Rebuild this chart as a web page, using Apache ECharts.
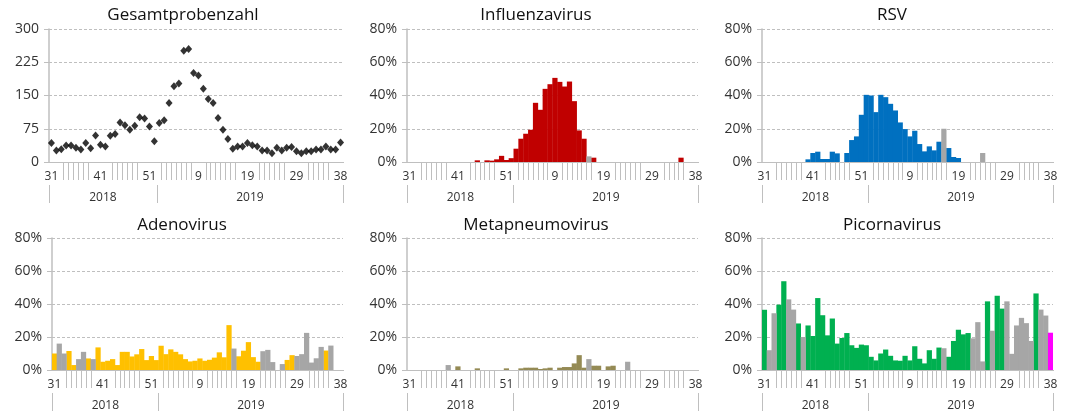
<!DOCTYPE html>
<html><head><meta charset="utf-8">
<script src="https://cdn.jsdelivr.net/npm/echarts@6/dist/echarts.min.js"></script>
<style>html,body{margin:0;padding:0;background:#fff}#c{width:1067px;height:412px}</style>
</head><body><div id="c"></div>
<script>
// ---- data ----
const weeks = [31,32,33,34,35,36,37,38,39,40,41,42,43,44,45,46,47,48,49,50,51,52,
  1,2,3,4,5,6,7,8,9,10,11,12,13,14,15,16,17,18,19,20,21,22,23,24,25,26,27,28,29,30,31,32,33,34,35,36,37,38];
const years = ['2018','2019'];
const totalSamples = [43,26,29,37,37,32,28,43,31,60,39,35,59,63,89,83,73,82,101,98,80,47,
  88,94,133,171,177,251,255,201,195,165,142,133,99,73,52,30,35,35,43,38,35,26,26,20,32,26,32,34,24,20,24,24,28,28,35,28,28,44];
const influenza = [0,0,0,0,0,0,0,0,0,0,0,0,0,0,1,0,1,0.8,1.6,3.7,1.2,2.3,
  8,14,17,19.4,35.6,31.4,44,46.8,50.6,48.2,45.4,48.4,36.6,19,14,3.4,2.6,0,0,0,0,0,0,0,0,0,0,0,0,0,0,0,0,0,2.6,0,0,0];
const rsv = [0,0,0,0,0,0,0,0,0,1.6,5.4,6.2,1.8,1.8,6.2,5.2,0,5.4,13.2,15.4,28.4,40.4,
  40,30,40.4,39,35,31,23.8,19.8,15.4,18.8,10.8,6.4,9.4,7,12.2,20,8.4,3,2.4,0,0,0,0,5.4,0,0,0,0,0,0,0,0,0,0,0,0,0,0];
const adenovirus = [10,16,10,11.5,3,6.6,11,7,6.6,13.7,5,5.6,6.6,3,11,11,8.2,9.5,12.7,6,8.5,6,
  14.7,9.6,12.5,11,9.5,6.6,5.2,5.6,7,5.6,6.2,7.5,10.7,7.7,27.2,13,8.3,11.7,16.9,7.8,5,11.4,12.2,4.8,0,3.6,6.1,9,8.5,9.6,22.5,4.5,7.1,14,11.8,14.8,0,0];
const metapneumovirus = [0,0,0,0,0,0,0,0,3,0,2.2,0,0,0,1,0,0,0,0,0,1,0,
  0,1,1.4,1.4,1.4,0.6,1,1.4,0,1.4,1.8,1.8,4,9,1.4,6.6,2.6,2.6,0,2.2,2.6,0,0,5,0,0,0,0,0,0,0,0,0,0,0,0,0,0];
const picornavirus = [36.5,12,34.4,39.6,53.8,42.8,36.6,28.2,20,27,20.6,43.6,33.2,21,31.2,16,19.4,22.4,15,13.4,15.4,15,
  8,5.8,10,12.4,8.6,5.8,5.6,8.6,5.8,14.4,6.8,4,12,6.8,13.6,13.2,8,17.6,24.4,21.6,22.4,19.2,29,5.2,41.6,23.8,45,37.2,41.6,9.8,27,31.6,28.4,17.6,46.4,36.6,33,22.6];
// weeks (by position in the weeks list) shown in grey (low sample count) and the current week (magenta)
const lowCountWeekIdx = [1,2,5,6,8,37,43,44,45,47,50,51,52,53,54,55,57,58];
const currentWeekIdx = [59];
const totalTicks = [0,75,150,225,300];
const pctTicks = [0,20,40,60,80];

// ---- styles / layout ----
const FONT = 'Open Sans';
const GRIDC = '#bfbfbf';
const TXT = '#333333';
const panels = [
  {title:'Gesamtprobenzahl', kind:'total', data: totalSamples},
  {title:'Influenzavirus', color:'#C00000', data: influenza},
  {title:'RSV', color:'#0070C0', data: rsv},
  {title:'Adenovirus', color:'#FFC000', data: adenovirus},
  {title:'Metapneumovirus', color:'#948A54', data: metapneumovirus},
  {title:'Picornavirus', color:'#00B050', data: picornavirus}
];
const layout = [
  {left:49, top:29, width:294, height:133, tx:183, ty:7},
  {left:407, top:29, width:291, height:133, tx:536, ty:7},
  {left:762, top:29, width:291, height:133, tx:892, ty:7},
  {left:52, top:238, width:291, height:133, tx:182, ty:217},
  {left:407, top:238, width:291, height:133, tx:536, ty:217},
  {left:762, top:238, width:291, height:133, tx:892, ty:217}
];

const cats = weeks.map(String);
const n = cats.length;
const yb = weeks.indexOf(1);
const yearSlots = new Array(n + 1).fill('');
yearSlots[Math.round(yb / 2)] = years[0];
yearSlots[Math.round(yb + (n - yb) / 2)] = years[1];
const yearTickIdx = [0, yb, n];

const grid = [], xAxis = [], yAxis = [], series = [], title = [];
panels.forEach((p, k) => {
  const L = layout[k];
  grid.push({left:L.left, top:L.top, width:L.width, height:L.height});
  title.push({text:p.title, left:L.tx, top:L.ty, textAlign:'center', padding:0,
    textStyle:{fontFamily:FONT, fontSize:17, fontWeight:'normal', color:'#111'}});
  xAxis.push({type:'category', gridIndex:k, data:cats, boundaryGap:true,
    axisLine:{show:true, lineStyle:{color:GRIDC, width:1}},
    axisTick:{show:true, interval:0, length:18, lineStyle:{color:GRIDC, width:1}},
    axisLabel:{interval:(i)=> i % 10 === 0 || i === n - 1, margin:1, fontFamily:FONT, fontSize:12,
      color:TXT, backgroundColor:'#fff', padding:[8,2,2,2], lineHeight:12},
    splitLine:{show:false}});
  xAxis.push({type:'category', gridIndex:k, data:yearSlots, boundaryGap:false, position:'bottom', offset:21,
    axisLine:{show:false},
    axisTick:{show:true, interval:(i)=> yearTickIdx.includes(i), length:20, lineStyle:{color:GRIDC, width:1}},
    axisLabel:{interval:0, margin:9, fontFamily:FONT, fontSize:12, color:TXT},
    splitLine:{show:false}});
  const ticks = p.kind === 'total' ? totalTicks : pctTicks;
  yAxis.push({type:'value', gridIndex:k, min:ticks[0], max:ticks[ticks.length-1], interval:ticks[1]-ticks[0],
    axisLine:{show:true, lineStyle:{color:GRIDC, width:1.5}},
    axisTick:{show:true, length:5, lineStyle:{color:GRIDC}},
    axisLabel:{margin:10, fontFamily:FONT, fontSize:14, color:TXT,
      formatter: p.kind === 'total' ? '{value}' : '{value}%'},
    splitLine:{show:true, lineStyle:{color:GRIDC, type:[3,2], width:1}}});
  const xi = 2 * k;
  if (p.kind === 'total') {
    series.push({type:'scatter', xAxisIndex:xi, yAxisIndex:k, data:p.data, symbol:'diamond',
      symbolSize:[7,8], itemStyle:{color:'#000'}});
  } else {
    const pick = (test) => p.data.map((v,i)=> (test(i) && v > 0) ? v : '-');
    const isLow = (i) => lowCountWeekIdx.includes(i);
    const isCur = (i) => currentWeekIdx.includes(i);
    const main = pick((i)=> !isLow(i) && !isCur(i));
    const grey = pick(isLow);
    const cur = pick(isCur);
    const common = {type:'bar', xAxisIndex:xi, yAxisIndex:k, barGap:'-100%', barWidth:'108%', silent:true};
    const mk = (d, c) => Object.assign({}, common, {data:d, itemStyle:{color:c}});
    series.push(mk(main, p.color));
    series.push(mk(grey, '#A6A6A6'));
    series.push(mk(cur, '#FF00FF'));
  }
});

const chart = echarts.init(document.getElementById('c'), null, {renderer:'canvas'});
chart.setOption({animation:false, backgroundColor:'#fff', title, grid, xAxis, yAxis, series});
</script></body></html>
